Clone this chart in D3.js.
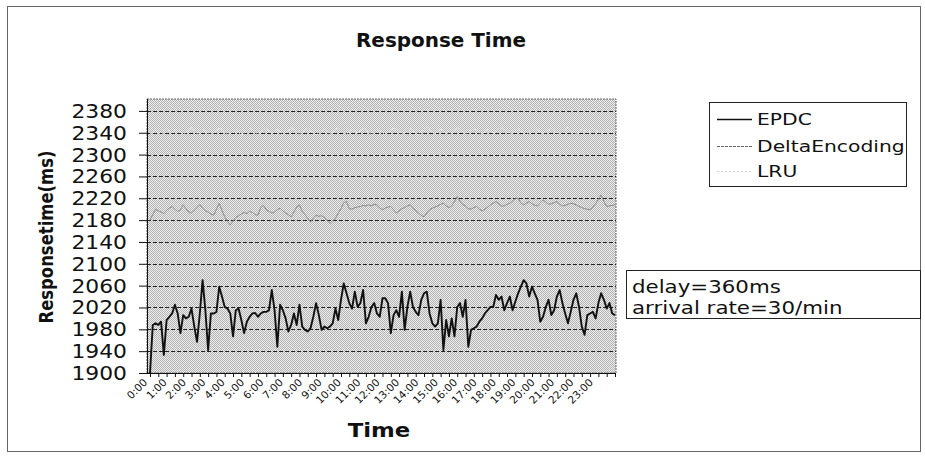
<!DOCTYPE html>
<html>
<head>
<meta charset="utf-8">
<script src="https://cdn.jsdelivr.net/npm/d3@7"></script>
<style>
  body { margin: 0; background: #fff; }
  text { font-family: "DejaVu Sans", sans-serif; fill: #111; }
</style>
</head>
<body>
<div id="chart"></div>
<script>
// values, one point per category
let timeLabels = ["0:00","1:00","2:00","3:00","4:00","5:00","6:00","7:00","8:00","9:00","10:00","11:00",
                  "12:00","13:00","14:00","15:00","16:00","17:00","18:00","19:00","20:00","21:00","22:00","23:00"];
let labelEvery = 7;
let tickEvery = 3;
let yTicks = [1900,1940,1980,2020,2060,2100,2140,2180,2220,2260,2300,2340,2380];

let epdc = [
  1899,1988,1991,1988,1994,1933,1997,2003,2009,2025,
  2009,1973,2006,2000,2003,2018,1985,1957,2009,2070,
  2015,1942,2009,2009,2012,2058,2040,2021,2018,2009,
  1967,2015,2018,1997,1973,1994,2003,2009,2010,2003,
  2009,2012,2012,2015,2052,2015,1948,2025,2015,2000,
  1976,1988,2009,1988,2025,1985,1979,1976,1982,2003,
  2028,2006,1979,1985,1982,1985,1991,2018,1997,2034,
  2064,2046,2028,2018,2049,2021,2028,2052,1991,2003,
  2021,
  2028,2009,2003,2037,2037,2028,1973,2006,2015,2003,
  2049,1979,2021,2049,2021,2012,2006,2034,2046,2049,
  2009,1991,1985,1991,2034,1942,1997,1967,2000,1967,
  2021,2028,2003,2034,1948,1979,1982,1985,1994,2000,
  2009,2015,2021,2021,2043,2034,2040,2015,2028,2040,
  2015,2031,2046,2058,2070,2064,2040,2058,2046,2034,
  1994,2003,2021,2034,2006,2015,2040,2052,2028,2009,
  1991,2012,2034,2046,2021,1985,1970,2006,2009,2012,
  2000,2028,2046,2034,2018,2028,2009,2006
];

let deltaEncoding = [
  2180,2190,2200,2197,2195,2192,2198,2202,2205,2200,
  2196,2199,2208,2201,2195,2193,2198,2203,2208,2202,
  2197,2195,2191,2189,2200,2211,2198,2186,2178,2171,
  2178,2185,2188,2191,2194,2192,2196,2194,2190,2189,
  2203,2207,2199,2196,2193,2195,2199,2202,2197,2193,
  2190,2186,2195,2204,2208,2196,2190,2183,2177,2184,
  2189,2187,2188,2185,2179,2174,2179,2183,2193,2201,
  2212,2214,2201,2200,2203,2204,2205,2207,2206,2208,
  2206,2209,2208,2202,2199,2202,2204,2205,2199,2193,
  2197,2201,2203,2206,2208,2203,2197,2193,2189,2186,
  2193,2199,2202,2204,2206,2209,2211,2206,2203,2206,
  2214,2223,2214,2209,2206,2201,2200,2203,2205,2200,
  2197,2200,2204,2208,2211,2214,2210,2206,2206,2209,
  2211,2215,2220,2220,2211,2208,2211,2214,2210,2207,
  2206,2212,2217,2213,2209,2210,2212,2214,2209,2206,
  2207,2209,2211,2210,2208,2205,2203,2201,2200,2199,
  2204,2210,2218,2226,2214,2205,2206,2207,2208
];

let lru = [
  2338,2342,2345,2340,2336,2341,2347,2343,2339,2344,
  2348,2342,2337,2340,2345,2350,2344,2338,2341,2346,
  2343,2339,2335,2340,2344,2349,2345,2341,2338,2342,
  2347,2344,2340,2336,2339,2343,2348,2346,2341,2337,
  2340,2345,2349,2343,2338,2342,2346,2341,2336,2340,
  2344,2350,2346,2342,2338,2341,2345,2348,2343,2339,
  2336,2340,2344,2347,2342,2338,2341,2346,2350,2345,
  2340,2337,2342,2346,2343,2339,2344,2348,2345,2341,
  2338,2342,2347,2344,2340,2336,2341,2345,2349,2346,
  2342,2338,2340,2344,2348,2343,2339,2337,2341,2346,
  2350,2345,2341,2338,2342,2347,2344,2340,2336,2340,
  2345,2349,2346,2342,2338,2341,2344,2348,2345,2340,
  2337,2341,2346,2343,2339,2342,2347,2350,2346,2342,
  2338,2340,2344,2348,2343,2339,2336,2341,2345,2349,
  2346,2342,2338,2341,2345,2348,2344,2340,2337,2342,
  2346,2350,2345,2341,2338,2342,2347,2344,2340,2343,
  2347,2345,2341,2339,2342,2346,2344,2341,2340
];

let seriesNames = ["EPDC", "DeltaEncoding", "LRU"];
let noteLines = ["delay=360ms", "arrival rate=30/min"];

let svgWidth = 925;
let svgHeight = 456;
let plot = { left: 147, right: 616, top: 99, bottom: 373 };

let svg = d3.select('#chart')
            .append('svg')
            .attr('width', svgWidth)
            .attr('height', svgHeight);

// dithered grey like the scanned plot area
let defs = svg.append('defs');
let pat = defs.append('pattern')
              .attr('id', 'dither')
              .attr('width', 2).attr('height', 2)
              .attr('patternUnits', 'userSpaceOnUse');
pat.append('rect').attr('width', 2).attr('height', 2).attr('fill', '#eeeeee');
pat.append('rect').attr('x', 0).attr('y', 0).attr('width', 1).attr('height', 1).attr('fill', '#b2b2b2');
pat.append('rect').attr('x', 1).attr('y', 1).attr('width', 1).attr('height', 1).attr('fill', '#b2b2b2');

// outer chart border
svg.append('rect')
   .attr('x', 7.5).attr('y', 6.5)
   .attr('width', 913).attr('height', 445)
   .attr('fill', 'none')
   .attr('stroke', '#666')
   .attr('stroke-width', 1);

let n = epdc.length;
let x = d3.scaleLinear().domain([0, n - 1]).range([150, 615]);
let y = d3.scaleLinear().domain([1900, 2400]).range([plot.bottom, plot.top + 1]);

// stretched text, the scan is wider than the font
function stretchText(g, px, py, str, size, sx, opts) {
    opts = opts || {};
    return g.append('text')
            .attr('transform', `translate(${px},${py}) scale(${sx},1)`)
            .attr('font-size', size)
            .attr('font-weight', opts.bold ? 'bold' : 'normal')
            .attr('text-anchor', opts.anchor || 'start')
            .text(str);
}

// plot area
svg.append('rect')
   .attr('x', plot.left).attr('y', plot.top)
   .attr('width', plot.right - plot.left)
   .attr('height', plot.bottom - plot.top)
   .attr('fill', 'url(#dither)')
   .attr('stroke', '#666')
   .attr('stroke-dasharray', '2,1');

// gridlines
svg.append('g')
   .selectAll('line')
   .data(yTicks.slice(1))
   .join('line')
   .attr('x1', plot.left).attr('x2', plot.right)
   .attr('y1', d => Math.round(y(d)) + 0.5)
   .attr('y2', d => Math.round(y(d)) + 0.5)
   .attr('stroke', '#222')
   .attr('stroke-width', 1)
   .attr('stroke-dasharray', '4,2');

// series
let line = d3.line()
             .x((d, i) => x(i))
             .y(d => y(d));

svg.append('path')
   .datum(lru)
   .attr('d', line)
   .attr('fill', 'none')
   .attr('stroke', '#eeeeee')
   .attr('stroke-width', 1)
   .attr('stroke-dasharray', '1,1');

svg.append('path')
   .datum(deltaEncoding)
   .attr('d', line)
   .attr('fill', 'none')
   .attr('stroke', '#8a8a8a')
   .attr('stroke-width', 1);

svg.append('path')
   .datum(epdc)
   .attr('d', line)
   .attr('fill', 'none')
   .attr('stroke', '#111')
   .attr('stroke-width', 1.9)
   .attr('stroke-linejoin', 'round');

// y axis
let yAxis = d3.axisLeft(y)
              .tickValues(yTicks)
              .tickSize(8)
              .tickFormat('');
let yAxisG = svg.append('g')
                .attr('transform', `translate(${plot.left},0)`)
                .call(yAxis);
yAxisG.select('.domain').attr('stroke', '#111').attr('d', `M0.5,${plot.top}V${plot.bottom}`);
yAxisG.selectAll('.tick line').attr('stroke', '#111');

let yLab = svg.append('g');
yTicks.forEach(function(t) {
    stretchText(yLab, 127, y(t) + 7, String(t), 19, 1.15, { anchor: 'end' });
});

// x axis
let xTickIdx = d3.range(0, n, tickEvery);
let xAxis = d3.axisBottom(x)
              .tickValues(xTickIdx)
              .tickSize(4)
              .tickFormat('');
let xAxisG = svg.append('g')
                .attr('transform', `translate(0,${plot.bottom})`)
                .call(xAxis);
xAxisG.select('.domain').attr('stroke', '#111').attr('d', `M${plot.left},0.5H${plot.right}`);
xAxisG.selectAll('.tick line').attr('stroke', '#111');

svg.append('g')
   .selectAll('text')
   .data(timeLabels)
   .join('text')
   .attr('transform', (d, i) => `translate(${x(i * labelEvery) - 2},${plot.bottom + 10}) rotate(-45)`)
   .attr('text-anchor', 'end')
   .attr('font-size', 10.5)
   .text(d => d);

// titles
stretchText(svg, 441, 47, 'Response Time', 19, 1.05, { bold: true, anchor: 'middle' });
stretchText(svg, 379, 437, 'Time', 19, 1.2, { bold: true, anchor: 'middle' });
svg.append('text')
   .attr('transform', 'translate(53,237) rotate(-90)')
   .attr('text-anchor', 'middle')
   .attr('font-size', 20)
   .attr('font-weight', 'bold')
   .attr('textLength', 173)
   .attr('lengthAdjust', 'spacingAndGlyphs')
   .text('Responsetime(ms)');

// legend
let legend = svg.append('g');
legend.append('rect')
      .attr('x', 709.5).attr('y', 102.5)
      .attr('width', 197).attr('height', 84)
      .attr('fill', '#fff')
      .attr('stroke', '#222');
let legendStyle = [
    { stroke: '#111', width: 1.5, dash: null },
    { stroke: '#666', width: 1, dash: '3,1' },
    { stroke: '#cfcfcf', width: 1, dash: '2,2' }
];
let legendBase = [125, 152, 177];
seriesNames.forEach(function(name, i) {
    legend.append('line')
          .attr('x1', 717).attr('x2', 752)
          .attr('y1', legendBase[i] - 5.5).attr('y2', legendBase[i] - 5.5)
          .attr('stroke', legendStyle[i].stroke)
          .attr('stroke-width', legendStyle[i].width)
          .attr('stroke-dasharray', legendStyle[i].dash);
    stretchText(legend, 757, legendBase[i], name, 16, 1.27);
});

// note box
let note = svg.append('g');
note.append('rect')
    .attr('x', 626.5).attr('y', 270.5)
    .attr('width', 294).attr('height', 48)
    .attr('fill', '#fff')
    .attr('stroke', '#222');
let noteBase = [293, 314];
noteLines.forEach(function(t, i) {
    stretchText(note, 632, noteBase[i], t, 17.5, 1.22);
});
</script>
</body>
</html>
